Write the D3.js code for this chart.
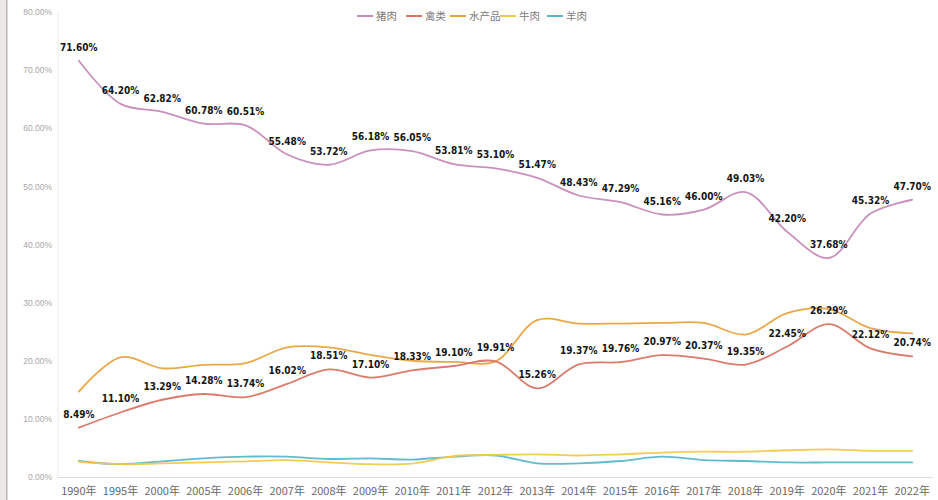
<!DOCTYPE html>
<html><head><meta charset="utf-8">
<script src="https://cdn.jsdelivr.net/npm/d3@7"></script>
<style>
html,body{margin:0;padding:0;background:#fff;}
svg{display:block;}
</style></head>
<body>
<svg id="chart" width="938" height="500"></svg>
<script>
const years = ["1990年","1995年","2000年","2005年","2006年","2007年","2008年","2009年","2010年","2011年","2012年","2013年","2014年","2015年","2016年","2017年","2018年","2019年","2020年","2021年","2022年"];
const pork    = [71.60,64.20,62.82,60.78,60.51,55.48,53.72,56.18,56.05,53.81,53.10,51.47,48.43,47.29,45.16,46.00,49.03,42.20,37.68,45.32,47.70];
const poultry = [8.49,11.10,13.29,14.28,13.74,16.02,18.51,17.10,18.33,19.10,19.91,15.26,19.37,19.76,20.97,20.37,19.35,22.45,26.29,22.12,20.74];
const aquatic = [14.7,20.6,18.7,19.3,19.6,22.3,22.3,21.0,20.0,19.8,19.9,27.0,26.4,26.4,26.5,26.5,24.5,28.2,28.9,25.6,24.7];
const beef    = [2.6,2.2,2.35,2.5,2.7,2.9,2.5,2.2,2.3,3.6,3.8,3.9,3.7,3.9,4.2,4.35,4.35,4.6,4.75,4.5,4.5];
const mutton  = [2.75,2.2,2.7,3.2,3.5,3.5,3.1,3.2,3.0,3.5,3.7,2.35,2.35,2.75,3.5,2.9,2.75,2.5,2.5,2.5,2.5];
const seriesNames = ["猪肉","禽类","水产品","牛肉","羊肉"];
const yTicks = [0,10,20,30,40,50,60,70,80];

const colors = ["#c68ab9","#d87464","#e8a33f","#f2c94a","#5ab6cc"];
const seriesData = [pork, poultry, aquatic, beef, mutton];
const labelled = [true, true, false, false, false];

(function(){
const svg = d3.select("#chart");
const W = 938, H = 500;
const pLeft = 58, pRight = 933, pTop = 12, pBottom = 477;

// frame strip at left
svg.append("rect").attr("x",0).attr("y",0).attr("width",6).attr("height",H).attr("fill","#eceae6");
svg.append("rect").attr("x",6).attr("y",0).attr("width",1.5).attr("height",H).attr("fill","#b8b8b8");

const x = d3.scaleBand().domain(years).range([pLeft, pRight]).padding(0);
const cx = d => x(d) + x.bandwidth()/2;
const y = d3.scaleLinear().domain([0,80]).range([pBottom, pTop]);

// axis lines
svg.append("line").attr("x1",pLeft).attr("x2",pLeft).attr("y1",pTop).attr("y2",pBottom)
  .attr("stroke","#ececec").attr("stroke-width",1);
svg.append("line").attr("x1",pLeft).attr("x2",pRight).attr("y1",pBottom+0.5).attr("y2",pBottom+0.5)
  .attr("stroke","#dcdcdc").attr("stroke-width",1);

// y axis labels
const yAxis = d3.axisLeft(y).tickValues(yTicks).tickSize(0).tickPadding(6)
  .tickFormat(d => d.toFixed(2) + "%");
const gy = svg.append("g").attr("transform",`translate(${pLeft},0)`).call(yAxis);
gy.select(".domain").remove();
gy.selectAll("text").attr("fill","#a8a8a8").style("font-size","8.5px")
  .style("font-family","'Liberation Sans', Arial, sans-serif");

// x axis labels
const xAxis = d3.axisBottom(x).tickSize(0).tickPadding(10);
const gx = svg.append("g").attr("transform",`translate(0,${pBottom})`).call(xAxis);
gx.select(".domain").remove();
gx.selectAll("text").attr("fill","#6a6a6a").style("font-size","11px")
  .style("font-family","'Noto Sans CJK SC', sans-serif");

// lines (draw bottom-up order so pork on top)
const line = d3.line().x((d,i)=>cx(years[i])).y(d=>y(d)).curve(d3.curveCatmullRom.alpha(0.5));
const order = [4,3,2,1,0];
order.forEach(k => {
  svg.append("path").datum(seriesData[k]).attr("d", line)
    .attr("fill","none").attr("stroke",colors[k]).attr("stroke-width",1.8)
    .attr("stroke-linecap","round").attr("opacity",0.95);
});

// data labels
seriesData.forEach((s,k) => {
  if (!labelled[k]) return;
  svg.append("g").selectAll("text").data(s).join("text")
    .attr("x",(d,i)=>cx(years[i]))
    .attr("y",d=>y(d)-10)
    .attr("text-anchor","middle")
    .attr("fill","#151515")
    .style("font-size","10px")
    .style("font-weight","bold")
    .style("font-family","'DejaVu Sans Condensed','DejaVu Sans',sans-serif")
    .text(d=>d.toFixed(2)+"%");
});

// legend
const legendX = [357, 406, 450, 500, 547];
const lg = svg.append("g");
seriesNames.forEach((n,k) => {
  lg.append("line").attr("x1",legendX[k]).attr("x2",legendX[k]+16).attr("y1",16).attr("y2",16)
    .attr("stroke",colors[k]).attr("stroke-width",2);
  lg.append("text").attr("x",legendX[k]+19).attr("y",20).text(n)
    .attr("fill","#7a7a7a").style("font-size","10.5px")
    .style("font-family","'Noto Sans CJK SC', sans-serif");
});
})();
</script>
</body></html>
